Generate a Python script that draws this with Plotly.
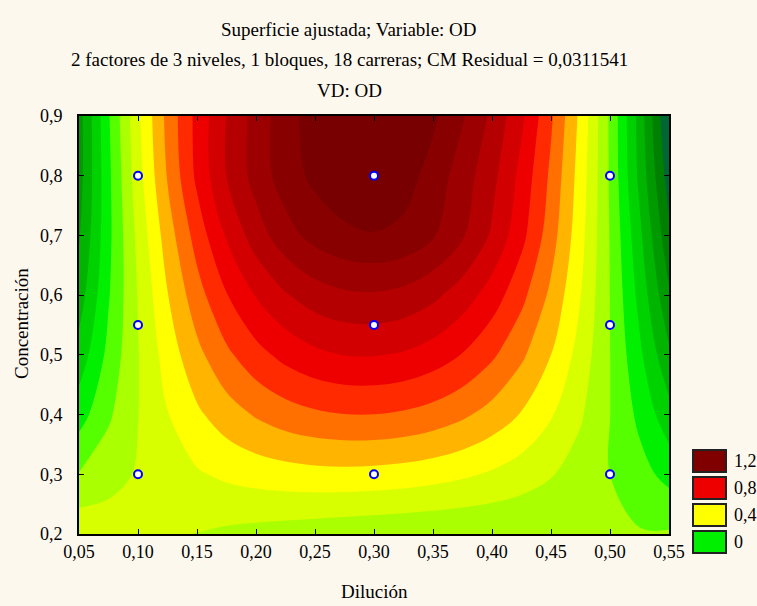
import plotly.graph_objects as go

# --- data ---
dilucion = [0.05, 0.075, 0.10, 0.125, 0.15, 0.175, 0.20, 0.225, 0.25, 0.275, 0.30,
            0.325, 0.35, 0.375, 0.40, 0.425, 0.45, 0.475, 0.50, 0.525, 0.55]
concentracion = [0.2, 0.3, 0.4, 0.5, 0.6, 0.7, 0.8, 0.9]

od_c020 = [0.375, 0.355, 0.334, 0.314, 0.297, 0.281, 0.267, 0.254, 0.242, 0.232, 0.224,
           0.217, 0.211, 0.207, 0.205, 0.204, 0.204, 0.205, 0.206, 0.208, 0.210]
od_c030 = [0.205, 0.261, 0.310, 0.353, 0.389, 0.419, 0.442, 0.458, 0.468, 0.471, 0.467,
           0.457, 0.440, 0.417, 0.387, 0.350, 0.307, 0.257, 0.200, 0.137, 0.067]
od_c040 = [0.057, 0.184, 0.298, 0.396, 0.482, 0.553, 0.610, 0.654, 0.683, 0.698, 0.699,
           0.686, 0.659, 0.618, 0.562, 0.493, 0.409, 0.312, 0.201, 0.076, -0.063]
od_c050 = [-0.061, 0.128, 0.296, 0.444, 0.572, 0.679, 0.765, 0.831, 0.877, 0.902, 0.905,
           0.890, 0.853, 0.795, 0.717, 0.619, 0.500, 0.360, 0.201, 0.021, -0.181]
od_c060 = [-0.150, 0.091, 0.306, 0.496, 0.659, 0.795, 0.906, 0.991, 1.050, 1.082, 1.088,
           1.069, 1.023, 0.951, 0.853, 0.728, 0.578, 0.402, 0.199, -0.030, -0.285]
od_c070 = [-0.210, 0.074, 0.328, 0.550, 0.742, 0.910, 1.050, 1.160, 1.235, 1.280, 1.295,
           1.275, 1.210, 1.110, 0.985, 0.830, 0.645, 0.435, 0.195, -0.075, -0.376]
od_c080 = [-0.241, 0.077, 0.360, 0.608, 0.822, 1.001, 1.140, 1.250, 1.325, 1.365, 1.375,
           1.345, 1.260, 1.150, 1.030, 0.870, 0.680, 0.455, 0.188, -0.125, -0.450]
od_c090 = [-0.242, 0.090, 0.380, 0.630, 0.830, 1.000, 1.140, 1.260, 1.350, 1.400, 1.415,
           1.395, 1.320, 1.210, 1.080, 0.920, 0.715, 0.475, 0.185, -0.140, -0.510]

design_x = [0.10, 0.30, 0.50, 0.10, 0.30, 0.50, 0.10, 0.30, 0.50]
design_y = [0.30, 0.30, 0.30, 0.55, 0.55, 0.55, 0.80, 0.80, 0.80]

x_ticks = [0.05, 0.10, 0.15, 0.20, 0.25, 0.30, 0.35, 0.40, 0.45, 0.50, 0.55]
y_ticks = [0.2, 0.3, 0.4, 0.5, 0.6, 0.7, 0.8, 0.9]

legend_labels = ["1,2", "0,8", "0,4", "0"]
legend_colors = ["#800000", "#ee0000", "#ffff00", "#00ee00"]

title_lines = ["Superficie ajustada; Variable: OD",
               "2 factores de 3 niveles, 1 bloques, 18 carreras; CM Residual = 0,0311541",
               "VD: OD"]

# --- styling ---
band_colors = ["#006633", "#008000", "#009a00", "#00b400", "#00d200", "#00f000",
               "#55ff00", "#aaff00", "#d8ff00", "#ffff00", "#ffb400", "#ff7000",
               "#ff2a00", "#ee0000", "#d20000", "#b40000", "#9c0000", "#880000", "#780000"]
n = len(band_colors) - 1
colorscale = [[i / n, c] for i, c in enumerate(band_colors)]

BG = "#fdf8ee"
FONT = "Liberation Serif"
W, H = 757, 606
L, R, T, B = 79, 88, 116, 72
pw, ph = W - L - R, H - T - B


def px_x(p):
    return (p - L) / pw


def px_y(p):
    return (H - B - p) / ph


fig = go.Figure()
fig.add_trace(go.Contour(
    x=dilucion, y=concentracion,
    z=[od_c020, od_c030, od_c040, od_c050, od_c060, od_c070, od_c080, od_c090],
    colorscale=colorscale,
    contours=dict(start=-0.4, end=1.3, size=0.1, coloring="fill", showlines=False),
    line=dict(width=0, smoothing=1.0),
    showscale=False, hoverinfo="skip",
))
fig.add_trace(go.Scatter(
    x=design_x, y=design_y, mode="markers",
    marker=dict(symbol="circle", size=8, color="white", line=dict(color="#0000ff", width=2)),
    showlegend=False, hoverinfo="skip",
))

annotations = []
for i, line in enumerate(title_lines):
    annotations.append(dict(text=line, xref="paper", yref="paper", x=px_x(349), y=px_y(30 + 30 * i),
                            xanchor="center", yanchor="middle", showarrow=False,
                            font=dict(family=FONT, size=19, color="black")))
annotations.append(dict(text="Dilución", xref="paper", yref="paper", x=px_x(374), y=px_y(591),
                        xanchor="center", yanchor="middle", showarrow=False,
                        font=dict(family=FONT, size=19, color="black")))
annotations.append(dict(text="Concentración", xref="paper", yref="paper", x=px_x(21), y=px_y(324),
                        xanchor="center", yanchor="middle", showarrow=False, textangle=-90,
                        font=dict(family=FONT, size=19, color="black")))

shapes = []
for i, (lab, col) in enumerate(zip(legend_labels, legend_colors)):
    top = 450 + 27 * i
    shapes.append(dict(type="rect", xref="paper", yref="paper",
                       x0=px_x(693), x1=px_x(726), y0=px_y(top + 22), y1=px_y(top),
                       fillcolor=col, line=dict(color="#222222", width=2)))
    annotations.append(dict(text=lab, xref="paper", yref="paper", x=px_x(732), y=px_y(top + 11),
                            xanchor="left", yanchor="middle", showarrow=False,
                            font=dict(family=FONT, size=18, color="black")))

axis_common = dict(showline=True, linecolor="black", linewidth=2, mirror="ticks",
                   ticks="inside", ticklen=5, tickcolor="black", showgrid=False, zeroline=False,
                   tickfont=dict(family=FONT, size=18, color="black"))

fig.update_layout(
    width=W, height=H,
    margin=dict(l=L, r=R, t=T, b=B),
    paper_bgcolor=BG, plot_bgcolor=BG,
    separators=",.",
    showlegend=False,
    xaxis=dict(range=[0.05, 0.55], tickvals=x_ticks, tickformat=".2f", ticklabelstandoff=0,
               **axis_common),
    yaxis=dict(range=[0.2, 0.9], tickvals=y_ticks, tickformat=".1f", ticklabelstandoff=11,
               **axis_common),
    annotations=annotations,
    shapes=shapes,
)

fig.write_html("out.html", config={"displayModeBar": False},
               post_script="document.body.style.margin='0px';document.body.style.overflow='hidden';")
